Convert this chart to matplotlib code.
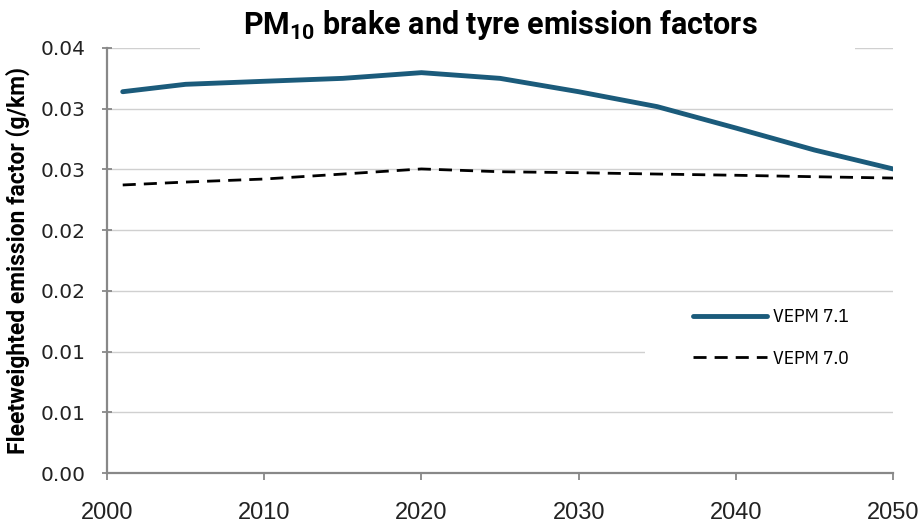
import numpy as np
import matplotlib
matplotlib.use("Agg")
import matplotlib.pyplot as plt
from matplotlib.patches import Rectangle

# data
years = [2001, 2005, 2010, 2015, 2020, 2025, 2030, 2035, 2040, 2045, 2050]
vepm71 = [0.03140, 0.03201, 0.03226, 0.03250, 0.03297, 0.03250,
          0.03140, 0.03017, 0.02841, 0.02660, 0.02504]
vepm70 = [0.02372, 0.02396, 0.02421, 0.02462, 0.02504, 0.02481,
          0.02473, 0.02462, 0.02452, 0.02440, 0.02429]

xticks = [2000, 2010, 2020, 2030, 2040, 2050]
yticks = [0.0, 0.005, 0.010, 0.015, 0.020, 0.025, 0.030, 0.035]
ytick_labels = ['0.00', '0.01', '0.01', '0.02', '0.02', '0.03', '0.03', '0.04']

bold = ['Roboto', 'DejaVu Sans']
cond = ['IBM Plex Sans Condensed', 'DejaVu Sans']

fig = plt.figure(figsize=(9.24, 5.24), dpi=100)
ax = fig.add_axes([0.1158, 0.0973, 0.8507, 0.8111])

ax.plot(years, vepm71, color='#1b5b7b', lw=3.5, solid_capstyle='round',
        label='VEPM 7.1', zorder=3)
ax.plot(years, vepm70, color='black', lw=2.0, dashes=(4.7, 2.9),
        label='VEPM 7.0', zorder=3)

ax.set_xlim(2000, 2050)
ax.set_ylim(0, 0.035)
ax.set_xticks(xticks)
ax.set_yticks(yticks)
ax.set_yticklabels(ytick_labels)

ax.grid(axis='y', color='#d0d0d0', lw=1.0, zorder=0)
ax.set_axisbelow(True)
for s in ['top', 'right']:
    ax.spines[s].set_visible(False)
for s in ['left', 'bottom']:
    ax.spines[s].set_color('#888888')
    ax.spines[s].set_linewidth(1.6)

ax.tick_params(axis='x', direction='out', length=5, width=1.3, color='#888888',
               pad=16)
ax.tick_params(axis='y', direction='inout', length=7, width=1.3, color='#888888',
               pad=12)
for lbl in ax.get_xticklabels():
    lbl.set_family(['Liberation Sans', 'DejaVu Sans'])
    lbl.set_fontsize(17)
    lbl.set_color('#222222')
for lbl in ax.get_yticklabels():
    lbl.set_family(['DejaVu Sans'])
    lbl.set_fontsize(14.5)
    lbl.set_color('#222222')

ax.set_ylabel('Fleetweighted emission factor (g/km)', family=bold,
              fontweight='bold', fontsize=16.5)
ax.yaxis.set_label_coords(-0.098, 0.5)

# white band behind title hides part of the top gridline
fig.patches.append(Rectangle((200 / 924, 1 - 60 / 524), 655 / 924, 60 / 524,
                             transform=fig.transFigure, facecolor='white',
                             edgecolor='none', zorder=1))
fig.text(0.542, 0.952, 'PM$_{\\mathregular{10}}$ brake and tyre emission factors',
         ha='center', va='center', family=bold, fontweight='bold',
         fontsize=22, zorder=2)

# white box behind legend hides parts of the gridlines
ax.add_patch(Rectangle((0.684, 0.214), 0.33, 0.193, transform=ax.transAxes,
                       facecolor='white', edgecolor='none', zorder=4,
                       clip_on=False))
leg = ax.legend(loc='center left', bbox_to_anchor=(0.7455, 0.3176),
                frameon=False, prop={'family': cond, 'size': 14},
                handlelength=3.8, handletextpad=0.33, labelspacing=1.2,
                borderpad=0, borderaxespad=0)
leg.set_zorder(5)

fig.savefig('out.png', dpi=100)
